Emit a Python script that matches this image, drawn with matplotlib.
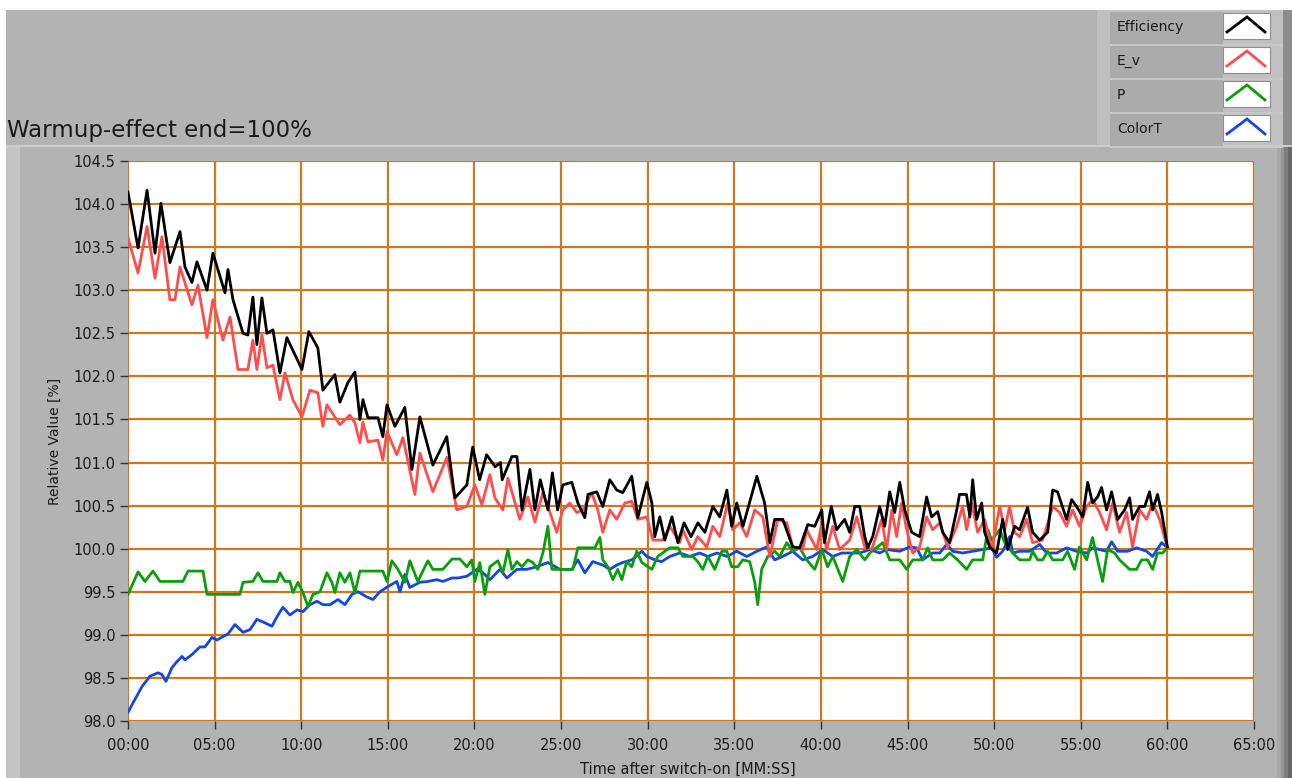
import matplotlib
matplotlib.use("Agg")
import matplotlib.pyplot as plt
from matplotlib.patches import Rectangle
from matplotlib.ticker import FuncFormatter, MultipleLocator

# Time after switch-on in minutes, values in % relative to the end value
eff_t = [0.00, 0.58, 1.10, 1.56, 1.90, 2.42, 3.00, 3.29, 3.69, 3.98, 4.56, 4.90, 5.19, 5.60, 5.77,
         6.06, 6.64, 6.92, 7.21, 7.44, 7.73, 8.02, 8.37, 8.77, 9.17, 10.04, 10.44, 10.96, 11.25,
         11.94, 12.23, 12.70, 13.10, 13.39, 13.56, 13.85, 14.43, 14.71, 14.95, 15.41, 15.98, 16.39,
         16.85, 17.25, 17.60, 18.40, 18.87, 19.56, 19.90, 20.30, 20.70, 21.20, 21.50, 21.60, 22.16,
         22.45, 22.74, 23.20, 23.49, 23.80, 24.24, 24.50, 24.80, 25.10, 25.62, 25.97, 26.37, 26.55,
         27.06, 27.41, 27.81, 28.22, 28.56, 29.08, 29.43, 29.95, 30.24, 30.41, 30.70, 30.99, 31.40,
         31.74, 32.10, 32.50, 32.90, 33.30, 33.76, 34.16, 34.57, 34.85, 35.14, 35.50, 36.30, 36.75,
         37.05, 37.33, 37.80, 38.37, 38.78, 39.24, 39.64, 40.05, 40.20, 40.60, 40.90, 41.37, 41.66,
         41.95, 42.24, 42.53, 42.70, 42.99, 43.39, 43.68, 43.97, 44.26, 44.55, 44.84, 45.24, 45.70,
         46.10, 46.39, 46.74, 47.03, 47.43, 47.84, 48.00, 48.40, 48.60, 48.76, 48.99, 49.28, 49.45,
         49.74, 50.14, 50.49, 50.78, 51.18, 51.47, 51.93, 52.22, 52.63, 53.09, 53.38, 53.66, 54.18,
         54.47, 54.76, 55.11, 55.40, 55.68, 55.97, 56.20, 56.49, 56.78, 57.13, 57.53, 57.82, 57.99,
         58.40, 58.69, 58.97, 59.15, 59.43, 59.67, 60.00]
eff_v = [104.14, 103.49, 104.16, 103.43, 104.01, 103.32, 103.68, 103.27, 103.09, 103.33, 103.00,
         103.43, 103.24, 102.97, 103.24, 102.89, 102.50, 102.48, 102.92, 102.37, 102.91, 102.50,
         102.54, 102.04, 102.45, 102.08, 102.52, 102.33, 101.84, 102.02, 101.70, 101.93, 102.05,
         101.50, 101.73, 101.52, 101.52, 101.30, 101.67, 101.42, 101.64, 100.92, 101.53, 101.23,
         100.97, 101.30, 100.59, 100.74, 101.18, 100.80, 101.09, 100.95, 101.00, 100.80, 101.07,
         101.07, 100.45, 100.92, 100.45, 100.80, 100.45, 100.88, 100.45, 100.74, 100.77, 100.53,
         100.36, 100.63, 100.66, 100.49, 100.80, 100.68, 100.65, 100.84, 100.36, 100.77, 100.53,
         100.14, 100.37, 100.10, 100.37, 100.07, 100.30, 100.14, 100.30, 100.19, 100.49, 100.37,
         100.68, 100.26, 100.53, 100.26, 100.84, 100.53, 100.07, 100.34, 100.34, 100.02, 100.01,
         100.28, 100.26, 100.45, 100.07, 100.49, 100.22, 100.34, 100.19, 100.49, 100.49, 100.14,
         100.01, 100.14, 100.49, 100.26, 100.66, 100.42, 100.77, 100.45, 100.19, 100.14, 100.60,
         100.37, 100.43, 100.19, 100.07, 100.45, 100.63, 100.63, 100.37, 100.80, 100.34, 100.53,
         100.19, 100.02, 99.95, 100.34, 99.99, 100.26, 100.22, 100.48, 100.19, 100.10, 100.19,
         100.68, 100.66, 100.34, 100.57, 100.49, 100.37, 100.77, 100.53, 100.60, 100.71, 100.45,
         100.66, 100.34, 100.45, 100.59, 100.34, 100.49, 100.49, 100.66, 100.45, 100.63, 100.42,
         100.02]

ev_t = [0.00, 0.58, 1.10, 1.56, 1.96, 2.42, 2.71, 3.00, 3.69, 4.04, 4.56, 4.90, 5.48, 5.89, 6.35,
        6.92, 7.21, 7.44, 7.73, 8.02, 8.37, 8.77, 9.06, 9.52, 10.04, 10.50, 10.96, 11.25, 11.48,
        12.23, 12.81, 13.10, 13.39, 13.56, 13.85, 14.43, 14.71, 14.95, 15.52, 15.87, 16.56, 16.85,
        17.60, 18.41, 18.98, 19.56, 20.02, 20.43, 20.89, 21.18, 21.64, 21.93, 22.62, 23.08, 23.49,
        23.95, 24.24, 24.75, 25.10, 25.50, 25.91, 26.26, 26.77, 27.12, 27.41, 27.81, 28.22, 28.68,
        29.08, 29.43, 29.95, 30.30, 30.87, 31.28, 31.85, 32.03, 32.54, 32.89, 33.41, 33.76, 34.16,
        34.62, 34.91, 35.31, 35.72, 36.18, 36.64, 37.05, 37.51, 38.03, 38.37, 38.95, 39.18, 39.76,
        40.05, 40.33, 40.68, 41.08, 41.66, 42.07, 42.53, 42.93, 43.51, 43.80, 44.09, 44.37, 44.66,
        44.95, 45.30, 45.70, 46.10, 46.45, 46.86, 47.32, 47.84, 48.18, 48.41, 48.70, 49.05, 49.45,
        49.86, 50.32, 50.61, 50.89, 51.18, 51.47, 51.88, 52.22, 52.80, 53.38, 53.78, 54.18, 54.53,
        54.93, 55.34, 55.68, 56.09, 56.49, 56.84, 57.24, 57.65, 57.99, 58.40, 58.80, 59.15, 59.55,
        60.00]
ev_v = [103.61, 103.20, 103.74, 103.14, 103.62, 102.89, 102.89, 103.27, 102.83, 103.06, 102.45,
        102.89, 102.42, 102.69, 102.08, 102.08, 102.42, 102.08, 102.48, 102.10, 102.13, 101.73,
        102.04, 101.73, 101.53, 101.84, 101.81, 101.42, 101.67, 101.44, 101.55, 101.46, 101.23,
        101.47, 101.24, 101.26, 101.03, 101.36, 101.09, 101.29, 100.63, 101.11, 100.66, 101.06,
        100.45, 100.49, 100.74, 100.51, 100.86, 100.59, 100.45, 100.82, 100.34, 100.60, 100.31,
        100.65, 100.49, 100.19, 100.45, 100.53, 100.42, 100.45, 100.65, 100.45, 100.19, 100.45,
        100.34, 100.53, 100.55, 100.34, 100.37, 100.10, 100.10, 100.26, 100.07, 100.22, 99.99,
        100.14, 100.02, 100.26, 100.14, 100.53, 100.22, 100.30, 100.14, 100.45, 100.37, 99.91,
        100.34, 100.30, 100.02, 99.99, 100.22, 99.99, 100.30, 99.99, 100.26, 99.99, 100.10, 100.37,
        100.02, 99.99, 100.34, 99.99, 100.45, 100.14, 100.53, 100.22, 99.95, 100.02, 100.37,
        100.22, 100.30, 100.02, 100.26, 100.49, 100.22, 100.53, 100.19, 100.34, 99.99, 100.49,
        100.22, 100.49, 100.19, 100.14, 100.34, 100.07, 100.10, 100.49, 100.42, 100.26, 100.45,
        100.26, 100.49, 100.57, 100.42, 100.22, 100.53, 100.19, 100.42, 100.02, 100.45, 100.34,
        100.53, 100.34, 100.01]

p_t = [0.00, 0.58, 0.98, 1.44, 1.85, 3.17, 3.46, 4.33, 4.56, 6.46, 6.64, 7.21, 7.50, 7.79, 8.60,
       8.77, 9.06, 9.35, 9.52, 9.81, 10.10, 10.39, 10.68, 11.08, 11.48, 11.77, 11.94, 12.23, 12.52,
       12.81, 13.10, 13.39, 14.71, 14.95, 15.23, 15.58, 15.98, 16.27, 16.73, 17.31, 17.60, 18.18,
       18.70, 19.16, 19.56, 19.85, 20.02, 20.31, 20.60, 20.89, 21.35, 21.64, 21.93, 22.16, 22.45,
       22.74, 23.08, 23.37, 23.66, 23.95, 24.24, 24.47, 25.68, 25.97, 26.95, 27.24, 27.41, 27.70,
       27.99, 28.27, 28.51, 28.79, 29.08, 29.37, 29.66, 30.24, 30.58, 30.99, 31.28, 31.74, 32.03,
       32.60, 32.89, 33.18, 33.47, 33.87, 34.28, 34.57, 34.85, 35.20, 35.49, 35.89, 36.18, 36.35,
       36.58, 36.93, 37.33, 37.62, 38.03, 38.37, 38.78, 39.18, 39.64, 40.05, 40.39, 40.68, 41.26,
       41.66, 42.07, 42.53, 42.82, 43.57, 43.97, 44.55, 44.95, 45.30, 45.87, 46.16, 46.45, 47.03,
       47.43, 47.89, 48.41, 48.76, 49.34, 49.63, 49.86, 50.32, 50.61, 51.07, 51.47, 52.05, 52.22,
       52.51, 52.80, 53.09, 53.38, 53.95, 54.24, 54.64, 54.93, 55.34, 55.68, 55.97, 56.26, 56.55,
       56.95, 57.24, 57.82, 58.22, 58.51, 58.86, 59.15, 59.43, 59.72, 60.00]
p_v = [99.47, 99.73, 99.62, 99.74, 99.62, 99.62, 99.74, 99.74, 99.47, 99.47, 99.61, 99.62, 99.72,
       99.62, 99.62, 99.72, 99.62, 99.62, 99.49, 99.61, 99.49, 99.33, 99.47, 99.50, 99.72, 99.61,
       99.49, 99.72, 99.61, 99.72, 99.49, 99.74, 99.74, 99.62, 99.86, 99.76, 99.61, 99.86, 99.62,
       99.86, 99.76, 99.76, 99.88, 99.88, 99.79, 99.87, 99.62, 99.84, 99.47, 99.79, 99.86, 99.72,
       99.99, 99.76, 99.85, 99.79, 99.87, 99.84, 99.76, 99.95, 100.26, 99.76, 99.76, 100.01,
       100.01, 100.13, 99.87, 99.79, 99.64, 99.76, 99.64, 99.85, 99.79, 99.97, 99.84, 99.76, 99.91,
       99.97, 100.01, 100.01, 99.91, 99.91, 99.85, 99.76, 99.91, 99.76, 99.97, 99.97, 99.79, 99.79,
       99.87, 99.85, 99.61, 99.35, 99.76, 99.91, 99.97, 99.91, 100.07, 99.97, 100.01, 99.87, 99.76,
       99.99, 99.79, 99.91, 99.62, 99.91, 99.99, 99.87, 99.95, 100.07, 99.87, 99.87, 99.76, 99.87,
       99.87, 100.01, 99.87, 99.87, 99.95, 99.87, 99.76, 99.87, 99.87, 100.22, 100.10, 100.22,
       100.07, 99.95, 99.87, 99.87, 99.97, 99.87, 99.87, 99.97, 99.87, 99.87, 99.97, 99.76, 100.02,
       99.87, 100.13, 99.87, 99.62, 99.99, 99.95, 99.87, 99.76, 99.76, 99.87, 99.87, 99.76, 99.95,
       99.95, 100.01]

ct_t = [0.00, 0.29, 0.81, 1.27, 1.73, 1.96, 2.19, 2.54, 2.83, 3.12, 3.29, 3.69, 4.15, 4.44, 4.85,
        5.14, 5.48, 5.77, 6.17, 6.64, 7.04, 7.44, 7.79, 8.31, 8.60, 8.94, 9.35, 9.75, 10.10, 10.50,
        10.91, 11.25, 11.66, 12.12, 12.52, 12.93, 13.27, 13.79, 14.14, 14.54, 15.00, 15.52, 15.70,
        15.98, 16.27, 16.85, 17.31, 17.83, 18.18, 18.70, 19.04, 19.56, 20.14, 20.49, 20.89, 21.47,
        21.87, 22.45, 23.02, 23.60, 24.24, 24.93, 25.62, 25.97, 26.37, 26.83, 27.41, 27.81, 28.22,
        28.56, 29.08, 29.66, 29.95, 30.41, 30.81, 31.28, 31.85, 32.43, 33.01, 33.47, 33.99, 34.57,
        35.14, 35.72, 36.30, 36.87, 37.33, 37.80, 38.37, 38.95, 39.53, 40.10, 40.68, 41.20, 41.66,
        42.24, 42.82, 43.39, 43.80, 44.55, 45.12, 45.53, 45.87, 46.45, 46.86, 47.26, 47.61, 48.18,
        48.76, 49.34, 49.86, 50.14, 50.49, 50.89, 51.07, 51.47, 52.05, 52.63, 53.03, 53.61, 54.18,
        54.76, 55.34, 55.68, 56.49, 56.78, 57.13, 57.70, 58.22, 58.80, 59.15, 59.67, 60.00]
ct_v = [98.10, 98.21, 98.40, 98.52, 98.56, 98.54, 98.46, 98.62, 98.69, 98.75, 98.71, 98.77, 98.86,
        98.86, 98.97, 98.94, 98.98, 99.01, 99.12, 99.03, 99.06, 99.18, 99.15, 99.10, 99.21, 99.32,
        99.23, 99.29, 99.27, 99.35, 99.39, 99.35, 99.35, 99.41, 99.35, 99.47, 99.50, 99.44, 99.41,
        99.50, 99.56, 99.62, 99.50, 99.70, 99.55, 99.61, 99.62, 99.64, 99.62, 99.66, 99.66, 99.68,
        99.76, 99.72, 99.64, 99.76, 99.66, 99.76, 99.76, 99.79, 99.84, 99.76, 99.76, 99.87, 99.72,
        99.85, 99.81, 99.76, 99.81, 99.84, 99.87, 99.97, 99.91, 99.87, 99.85, 99.91, 99.95, 99.91,
        99.95, 99.91, 99.95, 99.91, 99.97, 99.91, 99.97, 100.02, 99.87, 99.91, 99.97, 99.87, 99.91,
        99.99, 99.91, 99.95, 99.95, 99.95, 99.99, 99.95, 99.99, 99.97, 100.02, 100.01, 99.87,
        99.95, 99.95, 100.05, 99.97, 99.95, 99.97, 99.99, 100.01, 99.90, 99.97, 100.14, 99.95,
        99.97, 99.97, 100.05, 99.95, 99.95, 100.01, 99.97, 99.95, 100.01, 99.97, 100.08, 99.97,
        99.97, 100.01, 99.97, 99.91, 100.07, 100.01]

series = [
    ("Efficiency", eff_t, eff_v, "#000000"),
    ("E_v", ev_t, ev_v, "#ff4d4d"),
    ("P", p_t, p_v, "#0a9e0a"),
    ("ColorT", ct_t, ct_v, "#1446e6"),
]

W, H = 1292, 778
PANEL = "#b3b3b3"
GRID = "#d07820"

fig = plt.figure(figsize=(W / 100, H / 100), dpi=100, facecolor="white")

# panel background, drawn in pixel coordinates
bg = fig.add_axes([0, 0, 1, 1], zorder=-5)
bg.set_xlim(0, W)
bg.set_ylim(H, 0)
bg.axis("off")
bg.add_patch(Rectangle((6, 10), W - 6, H - 10, color=PANEL, lw=0))
bg.add_patch(Rectangle((6, 145), W - 6, 2, color="#cdcdcd", lw=0))
bg.add_patch(Rectangle((6, 147), 14, H - 147, color="#c4c4c4", lw=0))
for x0, shade in [(1277, "#a8a8a8"), (1281, "#969696"), (1284, "#7e7e7e"), (1288, "#666666")]:
    bg.add_patch(Rectangle((x0, 147), W - x0, H - 147, color=shade, lw=0))

bg.text(7, 137, "Warmup-effect end=100%", fontsize=16.5, color="#1a1a1a", va="baseline")

# legend widget
bg.add_patch(Rectangle((1097, 10), 188, 135, color="#c0c0c0", lw=0))
bg.add_patch(Rectangle((1283, 10), 9, 135, color="#8c8c8c", lw=0))
for i, (name, _, _, color) in enumerate(series):
    top = 12 + 34 * i
    bg.add_patch(Rectangle((1110, top), 113, 32, color="#ababab", lw=0))
    bg.add_patch(Rectangle((1110, top + 32), 173, 1.5, color="#c8c8c8", lw=0))
    bg.add_patch(Rectangle((1223, top + 1), 47, 26, facecolor="white", edgecolor="#8f8f8f", lw=0.8))
    bg.plot([1227, 1247, 1265], [top + 20, top + 5, top + 20], color=color, lw=2,
            solid_joinstyle="miter")
    bg.text(1117, top + 15, name, fontsize=10, color="#1a1a1a", va="center")

ax = fig.add_axes([128 / W, 1 - 721 / H, (1254 - 128) / W, (721 - 161) / H])
ax.set_facecolor("white")

for z, (name, t, v, color) in zip([5, 4, 3, 2], series):
    ax.plot(t, v, color=color, lw=2.0, zorder=z, label=name)

ax.set_xlim(0, 65)
ax.set_ylim(98.0, 104.5)
ax.xaxis.set_major_locator(MultipleLocator(5))
ax.yaxis.set_major_locator(MultipleLocator(0.5))
ax.xaxis.set_major_formatter(FuncFormatter(
    lambda m, _: f"{int(round(m * 60)) // 60:02d}:{int(round(m * 60)) % 60:02d}"))
ax.yaxis.set_major_formatter(FuncFormatter(lambda v, _: f"{v:.1f}"))

ax.grid(True, color=GRID, lw=1.6, zorder=1)
ax.set_axisbelow(True)
for tick in (ax.xaxis.get_major_ticks()[0], ax.xaxis.get_major_ticks()[-1],
             ax.yaxis.get_major_ticks()[0], ax.yaxis.get_major_ticks()[-1]):
    tick.gridline.set_visible(False)

for spine in ax.spines.values():
    spine.set_visible(False)
ax.tick_params(axis="both", direction="out", length=6, width=1, color="#333333",
               labelsize=10.5, labelcolor="#1a1a1a")
ax.tick_params(axis="x", pad=6)
ax.tick_params(axis="y", pad=3)

fig.text(55 / W, 1 - 441 / H, "Relative Value [%]", rotation=90, ha="center", va="center",
         fontsize=10, color="#1a1a1a")
fig.text(688 / W, 1 - 769 / H, "Time after switch-on [MM:SS]", ha="center", va="center",
         fontsize=10.5, color="#1a1a1a")

fig.savefig("out.png", dpi=100, facecolor=fig.get_facecolor())
